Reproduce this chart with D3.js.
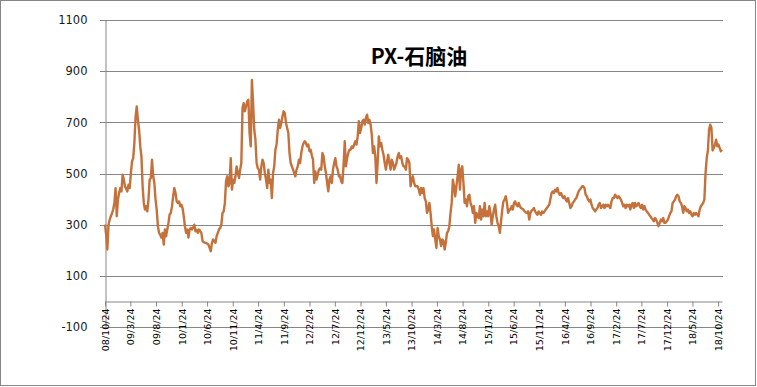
<!DOCTYPE html>
<html>
<head>
<meta charset="utf-8">
<script src="https://cdn.jsdelivr.net/npm/d3@7"></script>
<style>
  body { margin: 0; background: #fff; }
  svg { display: block; }
</style>
</head>
<body>
<svg width="757" height="387"></svg>
<script>
// weekly PX - naphtha spread, Fridays starting 2008-10-24
var startDate = "2008-10-24";
var spread = [
  300,260,203,300,320,333,345,360,385,443,
  333,398,424,443,430,495,476,450,440,430,
  456,443,500,547,560,620,720,762,710,671,
  606,567,450,385,359,372,352,398,476,482,
  554,489,463,398,359,294,268,260,249,268,
  222,281,255,281,307,340,346,372,411,443,
  424,391,385,391,372,378,365,333,294,268,
  281,250,281,287,281,290,300,274,280,268,
  281,275,268,236,232,230,229,225,222,209,
  196,229,242,235,229,255,268,281,287,300,
  346,352,385,470,489,450,463,560,437,476,
  463,489,528,502,482,515,541,756,775,743,
  762,782,788,658,606,866,775,671,632,541,
  521,515,476,528,554,541,502,476,443,515,
  463,476,404,502,528,593,613,671,710,678,
  697,723,743,736,697,678,658,580,541,528,
  515,502,489,515,528,554,541,580,606,619,
  626,619,606,613,587,593,570,554,463,508,
  476,495,515,521,515,580,567,528,502,463,
  430,476,489,463,515,541,560,528,515,489,
  489,469,463,534,626,528,560,580,593,593,
  606,600,613,626,613,645,704,658,678,704,
  710,691,717,730,697,710,691,652,580,606,
  567,463,541,645,606,619,593,573,541,515,
  547,573,541,515,554,541,515,528,541,567,
  580,560,567,541,528,528,515,560,554,541,
  450,476,489,463,450,450,450,437,417,443,
  424,443,404,391,346,359,385,346,294,255,
  281,242,209,287,255,242,216,242,236,203,
  229,268,274,294,346,385,476,450,411,450,
  489,534,437,515,528,463,385,398,372,411,
  417,385,372,346,372,307,346,333,326,372,
  320,359,333,385,333,352,333,372,346,300,
  333,359,378,333,307,294,268,313,359,391,
  398,411,385,346,359,359,372,359,385,391,
  378,372,385,372,365,362,359,352,348,346,
  352,320,346,355,359,365,352,345,339,352,
  345,339,352,346,352,359,365,372,378,400,
  424,430,424,437,430,443,424,417,424,411,
  404,411,398,391,404,385,365,372,385,391,
  398,404,417,430,437,443,450,450,443,417,
  411,398,391,398,378,365,359,352,359,365,
  378,385,365,372,378,365,378,372,378,372,
  365,391,404,404,417,411,404,411,405,398,
  385,372,378,365,378,372,378,359,378,385,
  365,385,372,378,385,372,365,378,359,372,
  359,352,346,339,333,326,320,313,326,320,
  307,294,307,320,313,326,307,307,313,320,
  333,346,352,385,391,398,411,417,411,391,
  385,372,346,372,365,352,359,346,352,339,
  333,346,339,346,339,333,359,372,378,385,
  398,502,560,590,671,691,678,590,600,613,
  632,606,613,600,587,593
];
var yTicks = [-100, 100, 300, 500, 700, 900, 1100];
var tickDates = ["2008-10-24","2009-03-24","2009-08-24","2010-01-24","2010-06-24","2010-11-24",
  "2011-04-24","2011-09-24","2012-02-24","2012-07-24","2012-12-24","2013-05-24","2013-10-24",
  "2014-03-24","2014-08-24","2015-01-24","2015-06-24","2015-11-24","2016-04-24","2016-09-24",
  "2017-02-24","2017-07-24","2017-12-24","2018-05-24","2018-10-24"];
var tickLabels = ["08/10/24","09/3/24","09/8/24","10/1/24","10/6/24","10/11/24",
  "11/4/24","11/9/24","12/2/24","12/7/24","12/12/24","13/5/24","13/10/24",
  "14/3/24","14/8/24","15/1/24","15/6/24","15/11/24","16/4/24","16/9/24",
  "17/2/24","17/7/24","17/12/24","18/5/24","18/10/24"];
var title = "PX-石脑油";

var parse = d3.timeParse("%Y-%m-%d");
var start = parse(startDate);
var data = spread.map(function(v, i) { return {date: d3.timeWeek.offset(start, i), value: v}; });

var svg = d3.select("svg");
// plot box (not named top/left: those clash with window globals)
var plotL = 105, plotR = 722, plotT = 20, plotB = 327;

// chart border
svg.append("rect")
  .attr("x", 0.5).attr("y", 0.5).attr("width", 755).attr("height", 385)
  .attr("fill", "#fff").attr("stroke", "#868686");

var x = d3.scaleTime()
  .domain([data[0].date, data[data.length - 1].date])
  .range([plotL, plotR]);
var y = d3.scaleLinear().domain([-100, 1100]).range([plotB, plotT]);

// gridlines
svg.append("g").selectAll("line")
  .data(yTicks).join("line")
  .attr("x1", plotL - 5).attr("x2", plotR + 1)
  .attr("y1", function(d) { return Math.round(y(d)) + 0.5; })
  .attr("y2", function(d) { return Math.round(y(d)) + 0.5; })
  .attr("stroke", "#868686").attr("stroke-width", 1);

// y axis, plain hyphen for negatives like the original
var yAxis = svg.append("g")
  .attr("transform", "translate(" + (plotL + 0.5) + ",0)")
  .call(d3.axisLeft(y).tickValues(yTicks).tickFormat(function(d) { return String(d); })
    .tickSize(0).tickPadding(18));
yAxis.select(".domain").attr("stroke", "#868686");
yAxis.selectAll("text")
  .attr("font-family", "DejaVu Sans").attr("font-size", 11.5).attr("fill", "#1a1a1a");

// x axis at value 0
var y0 = Math.round(y(0)) + 0.5;
var xAxis = svg.append("g")
  .attr("transform", "translate(0," + y0 + ")")
  .call(d3.axisBottom(x)
    .tickValues(tickDates.map(parse))
    .tickFormat(function(d, i) { return tickLabels[i]; })
    .tickSize(5).tickSizeOuter(0));
xAxis.select(".domain").attr("stroke", "#868686");
xAxis.selectAll(".tick line").attr("stroke", "#868686");
xAxis.selectAll("text")
  .attr("font-family", "DejaVu Sans").attr("font-size", 9.5).attr("fill", "#000")
  .attr("text-anchor", "end")
  .attr("transform", "rotate(-90)")
  .attr("x", -7).attr("y", 0).attr("dy", "0.35em");

// series
var line = d3.line()
  .x(function(d) { return x(d.date); })
  .y(function(d) { return y(d.value); });
svg.append("path")
  .datum(data)
  .attr("d", line)
  .attr("fill", "none")
  .attr("stroke", "#c5713b")
  .attr("stroke-width", 2.4)
  .attr("stroke-linejoin", "round");

svg.append("text")
  .attr("x", 419).attr("y", 64)
  .attr("text-anchor", "middle")
  .attr("font-family", "Noto Sans CJK SC")
  .attr("font-weight", "bold")
  .attr("font-size", 21)
  .attr("fill", "#000")
  .text(title);
</script>
</body>
</html>
